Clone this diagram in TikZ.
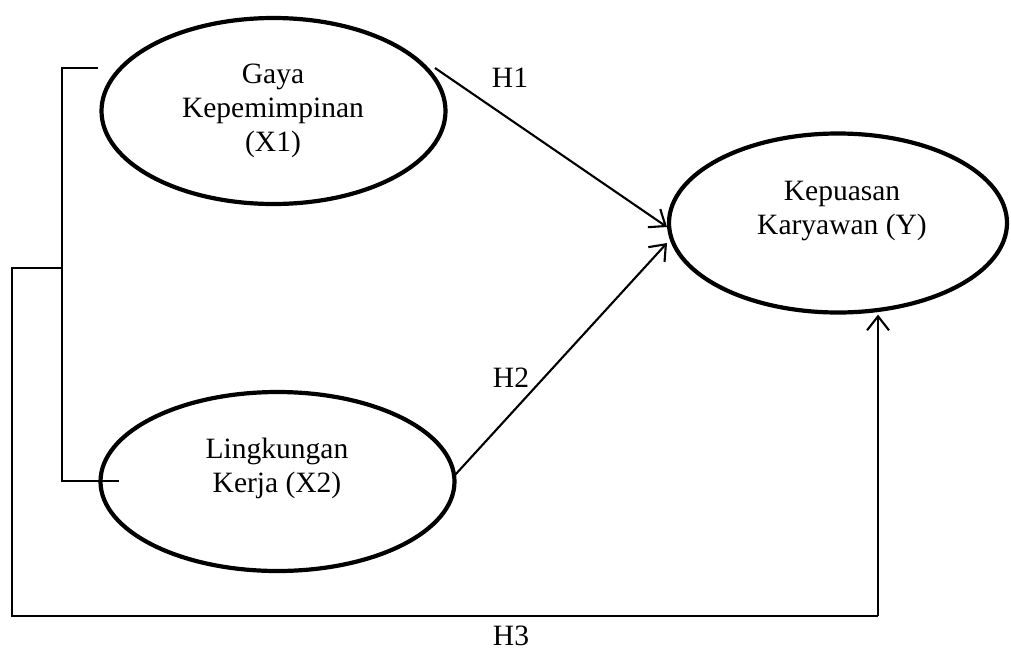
\documentclass[tikz,border=0pt]{standalone}
\usepackage{fontspec}
\setmainfont{Liberation Serif}
\usetikzlibrary{shapes.geometric,arrows.meta}
\begin{document}
\begin{tikzpicture}[x=1pt,y=-1pt,
  construct/.style={draw=black,ellipse,line width=4.2pt,inner sep=0pt},
  lbl/.style={align=center,inner sep=0pt,font=\fontsize{29.5}{34}\selectfont},
  conn/.style={draw=black,line width=2.1pt},
  arr/.style={conn,-{Straight Barb[length=14pt,width=22pt,line width=2.1pt]}}]
\useasboundingbox (0,0) rectangle (1011,651);
% constructs
\node[construct,minimum width=344pt,minimum height=186pt] (x1) at (273.5,111) {};
\node[construct,minimum width=354pt,minimum height=179pt] (x2) at (277.5,481.5) {};
\node[construct,minimum width=338pt,minimum height=179pt] (y) at (838,223) {};
% texts
\node[lbl] (tx1) at (273,111) {Gaya\\Kepemimpinan\\(X1)};
\node[lbl] (tx2) at (277,468) {Lingkungan\\Kerja (X2)};
\node[lbl] (ty) at (842,211) {Kepuasan\\Karyawan (Y)};
\node[lbl] (h1) at (510,78) {H1};
\node[lbl] (h2) at (511,378) {H2};
\node[lbl] (h3) at (511,636) {H3};
% direct paths
\coordinate (x1out) at (435,68);
\coordinate (x2out) at (455,475);
\coordinate (yin1) at (667,227);
\coordinate (yin2) at (667,243);
\draw[arr] (x1out) -- (yin1);
\draw[arr] (x2out) -- (yin2);
% bracket linking X1 and X2
\coordinate (bt) at (62,68);
\coordinate (btr) at (98,68);
\coordinate (bb) at (62,481);
\coordinate (bbr) at (119,481);
\coordinate (bm) at (62,268);
\coordinate (bl) at (12,268);
\coordinate (bll) at (12,616);
\coordinate (br) at (878,616);
\draw[conn] (btr) -- (bt) -- (bb) -- (bbr);
\draw[conn] (bm) -- (bl) -- (bll) -- (br);
\draw[arr] (br) -- (br |- y.south);
\end{tikzpicture}
\end{document}
